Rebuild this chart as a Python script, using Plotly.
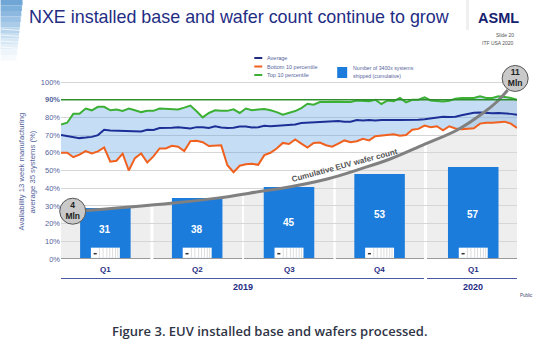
import numpy as np
import plotly.graph_objects as go

top10 = [76,77,82,82,85,84,86,86,84,84.5,83.7,85,84,83,83.7,83.7,85,84.8,84.6,84.5,85.5,86.7,83.5,80,82.5,84,83.7,83.7,84.6,82.5,85,84,84.5,84.8,84,
         83,81.5,82.7,83.6,85.3,87.7,87.2,88.7,88.7,88.9,88.9,88.7,88.7,89.6,89.2,89.2,90,87.6,89.6,89.2,91,88.5,90,90,91.3,89.6,89.2,89,89.4,90.5,91,91,91,92,91,91,92,91.5,91,90]
average = [70,69.4,69.2,68.3,68.6,69,70,73,72.6,72.5,72.4,72.2,72,72,73,72.9,74,74,74.1,74.5,74.2,73.8,74.5,74.5,74,75,74.3,74,74.2,74.8,74.8,74.3,74.5,75.3,75,
           75.2,75.3,75.6,76,76.8,77,76.8,77,77.5,77.8,77.9,77.5,77.6,78.5,78.2,78.5,78.3,78.6,78.4,78.5,78.6,78.5,78.6,78.7,78.9,79.3,80,80.4,80.2,80.4,81.2,82,82.6,82.8,82.5,82.3,82.5,82.4,82,81.5]
bottom10 = [60,60,57.5,59,61,59.7,60.8,63,55,55.5,59.5,50,57,59.7,54.5,58,62.5,62.5,64,63.4,61,66.6,66.8,66,63.8,64,64.2,53,49,52.7,53.5,53.8,53.2,58.7,60,
            62.4,65.6,65,67.5,65.2,63,65.6,65.8,64.3,63.5,65.2,67,66,66.5,67.9,67,69.4,69.7,70,70.5,69.7,70,73,73.5,75.4,74.4,75,72.7,75,73.7,73.3,73.7,73.9,76.5,77,77,77.2,77.6,76.5,74]
weeks = list(range(len(top10)))

quarter_pos = [7.2, 22.1, 37.0, 51.7, 66.9]
quarter_names = ["Q1", "Q2", "Q3", "Q4", "Q1"]
bar_heights = [28.8, 34.5, 40.7, 48.0, 52.0]
systems = [31, 38, 45, 53, 57]
system_label_y = [16.4, 16.4, 20.5, 25, 25.4]

curve_x = [0, 3.6, 11.7, 18.2, 25.3, 32.8, 35.6, 43.2, 48.5, 53.4, 58.7, 64.3, 68.5, 70.7, 72.5]
curve_y = [26, 27.3, 29.5, 31.6, 34.4, 38.4, 39.8, 45.2, 50.8, 56.5, 64.4, 72.9, 82.5, 88.7, 95.5]
band_edges = [(0, 14.5), (15, 29.4), (29.7, 44.2), (44.6, 58.9), (59.4, 74)]
year_spans = [(0, 58.9, "2019", 29.5), (59.4, 74, "2020", 66.8)]
y_ticks = list(range(0, 101, 10))

W, H = 537, 354
Y_TOP = 113.0
L, R, B = 60.5, 517, 259
T = B - 1.77 * Y_TOP
def px(v): return (v - L) / (R - L)
def py(v): return (B - v) / (B - T)

NAVY = "#1f2d84"
SLATE = "#55649c"
SANS = "Liberation Sans"
fig = go.Figure()

shapes = []
# quarter backdrops under the cumulative curve
for a, b in band_edges:
    xs = [a] + [x for x in curve_x if a < x < b] + [b]
    if b == 74:
        xs = [x for x in xs if x < 71] + [71.0, 74]
    ys = [min(90, float(np.interp(x, curve_x, curve_y))) for x in xs]
    if b == 74:
        ys[-1] = 90
    path = f"M {a} 0 " + " ".join(f"L {x} {y}" for x, y in zip(xs, ys)) + f" L {b} 0 Z"
    shapes.append(dict(type="path", path=path, xref="x", yref="y", fillcolor="#eeeeee",
                       line=dict(width=0), layer="below"))
    shapes.append(dict(type="line", xref="x", yref="y", x0=a, x1=b, y0=0, y1=0,
                       line=dict(color="#9a9a9a", width=2), layer="above"))

# machine pictograms at the foot of the bars
for c in quarter_pos:
    x0, x1 = c - 2.35, c + 2.35
    shapes.append(dict(type="rect", xref="x", yref="y", x0=x0, x1=x1, y0=0.6, y1=6.4,
                       fillcolor="#ffffff", line=dict(width=0), layer="above"))
    for f in (0.3, 0.42, 0.55, 0.65, 0.75, 0.85, 0.93):
        shapes.append(dict(type="line", xref="x", yref="y", x0=x0 + f * 4.7, x1=x0 + f * 4.7, y0=0.8, y1=6.2,
                           line=dict(color="#dddddd", width=1), layer="above"))
    shapes.append(dict(type="line", xref="x", yref="y", x0=x0 + 0.45, x1=x0 + 0.95, y0=3, y1=3,
                       line=dict(color="#333333", width=1.5), layer="above"))

# 90% target line
shapes.append(dict(type="line", xref="x", yref="y", x0=0, x1=74, y0=90, y1=90,
                   line=dict(color="#2f8f2f", width=1.5), layer="above"))

# year separators
for a, b, _, _ in year_spans:
    shapes.append(dict(type="line", xref="x", yref="paper", x0=a, x1=b, y0=py(278.5), y1=py(278.5),
                       line=dict(color="#4a5aa5", width=1.2)))

# slide artwork, top-left corner
corner = ["#6fa6d6", "#7eb0dc", "#8db9e0", "#9cc3e5", "#abcce9", "#b9d5ed", "#c8def1", "#d6e7f5", "#e3eff8", "#eff6fb", "#f7fafd"]
for i, c in enumerate(corner):
    shapes.append(dict(type="rect", xref="paper", yref="paper", x0=px(0), x1=px(22 - i * 0.6),
                       y0=py(i * 5.5), y1=py((i + 1) * 5.5), fillcolor=c, line=dict(width=0)))
for yy in (29, 35, 41, 47):
    shapes.append(dict(type="line", xref="paper", yref="paper", x0=px(0), x1=px(21), y0=py(yy), y1=py(yy + 1.5),
                       line=dict(color="#ffffff", width=0.7)))
shapes.append(dict(type="rect", xref="paper", yref="paper", x0=px(466), x1=px(469), y0=py(0), y1=py(30),
                   fillcolor="#f0f0f0", line=dict(width=0)))

# legend swatches
for yy, col in [(58, NAVY), (66.5, "#f0601e"), (75, "#3cb034")]:
    shapes.append(dict(type="line", xref="paper", yref="paper", x0=px(254), x1=px(262), y0=py(yy), y1=py(yy),
                       line=dict(color=col, width=2)))
shapes.append(dict(type="rect", xref="paper", yref="paper", x0=px(337), x1=px(347), y0=py(67), y1=py(78),
                   fillcolor="#1c7cdc", line=dict(width=0)))

fig.add_trace(go.Bar(x=quarter_pos, y=bar_heights, width=8.2, marker=dict(color="#1c7cdc", line=dict(width=0)),
                     hoverinfo="skip"))
fig.add_trace(go.Scatter(x=weeks, y=bottom10, mode="lines", line=dict(color="#f0601e", width=2), name="Bottom 10 percentile"))
fig.add_trace(go.Scatter(x=weeks, y=top10, mode="lines", line=dict(color="#3cb034", width=2),
                         fill="tonexty", fillcolor="rgba(90,160,225,0.35)", name="Top 10 percentile"))
fig.add_trace(go.Scatter(x=weeks, y=average, mode="lines", line=dict(color="#1c2f96", width=2), name="Average"))
fig.add_trace(go.Scatter(x=curve_x, y=curve_y, mode="lines", line=dict(color="#808080", width=3, shape="spline"),
                         cliponaxis=False, name="Cumulative EUV wafer count"))
fig.add_trace(go.Scatter(x=[1.9, 73.7], y=[27, 102], mode="markers+text", text=["<b>4<br>Mln</b>", "<b>11<br>Mln</b>"],
                         textposition="middle center", textfont=dict(family=SANS, size=8.5, color="#222222"),
                         marker=dict(size=26, color="#c9c9c9", line=dict(color="#555555", width=1)),
                         cliponaxis=False, name="Wafers"))

ann = []
def text(x, y, s, size, color=NAVY, anchor="left", angle=0, family=SANS, xref="paper", yref="paper", weight=None):
    f = dict(family=family, size=size, color=color)
    if weight:
        f["weight"] = weight
    ann.append(dict(x=x, y=y, text=s, xref=xref, yref=yref, showarrow=False, xanchor=anchor, yanchor="middle",
                    textangle=angle, font=f))

text(px(26), py(16.5), "NXE installed base and wafer count continue to grow", 17.9)
text(px(476), py(18), "<b>ASML</b>", 14.5, color="#16226f")
text(px(516), py(35), "Slide 20", 5, color="#555555", anchor="right")
text(px(516), py(42.5), "ITF USA 2020", 5, color="#555555", anchor="right")
text(px(265), py(58), "Average", 5.5, color=SLATE)
text(px(265), py(66.5), "Bottom 10 percentile", 5.5, color=SLATE)
text(px(265), py(75), "Top 10 percentile", 5.5, color=SLATE)
text(px(351), py(67.5), "Number of 3400x systems", 5.2, color=SLATE)
text(px(351), py(75.5), "shipped (cumulative)", 5.2, color=SLATE)
text(px(20), py(172), "Availability 13 week manufacturing", 7.7, color=SLATE, anchor="center", angle=-90)
text(px(31), py(172), "average 35 systems (%)", 7.7, color=SLATE, anchor="center", angle=-90)
text((344 - L) / (R - L) * 74, 53, "<b>Cumulative EUV wafer count</b>", 8, color="#555555", anchor="center", angle=-15, xref="x", yref="y")
for c, n in zip(quarter_pos, quarter_names):
    text(c, py(269.5), f"<b>{n}</b>", 8, anchor="center", xref="x")
for a, b, name, c in year_spans:
    text(c, py(287.5), f"<b>{name}</b>", 9, anchor="center", xref="x")
for c, v, ly in zip(quarter_pos, systems, system_label_y):
    text(c, ly, f"<b>{v}</b>", 10, color="#ffffff", anchor="center", xref="x", yref="y")
text(px(518), py(296), "Public", 4.5, color="#444a70")
text(px(110), py(331), "Figure 3. EUV installed base and wafers processed.", 13, color="#2f3546", family="Open Sans", weight=600)

fig.update_layout(
    width=W, height=H, autosize=False, showlegend=False, paper_bgcolor="#ffffff", plot_bgcolor="#ffffff",
    margin=dict(l=L, r=W - R, t=T, b=H - B), shapes=shapes, annotations=ann,
    xaxis=dict(range=[0, 74], visible=False, fixedrange=True),
    yaxis=dict(range=[0, Y_TOP], tickvals=y_ticks,
               ticktext=[f"<b>{v}%</b>" if v == 90 else f"{v}%" for v in y_ticks],
               tickfont=dict(family=SANS, size=7.5, color=SLATE), showgrid=True, gridcolor="#d6d6d6", gridwidth=1,
               zeroline=False, showline=False, ticks="", ticklen=0, fixedrange=True),
)
fig.write_html("out.html", post_script="document.body.style.margin='0';", config={"displayModeBar": False})
